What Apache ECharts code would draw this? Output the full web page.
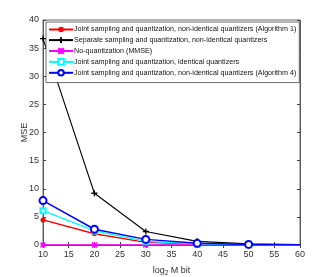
<!DOCTYPE html>
<html><head><meta charset="utf-8">
<script src="https://cdn.jsdelivr.net/npm/echarts@6/dist/echarts.min.js"></script>
<style>html,body{margin:0;padding:0;background:#fff}#c{width:332px;height:277px}</style>
</head><body><div id="c"></div>
<script>
const xVals = [10, 20, 30, 40, 50, 60];
const seriesNames = [
  'Joint sampling and quantization, non-identical quantizers (Algorithm 1)',
  'Separate sampling and quantization, non-identical quantizers',
  'No-quantization (MMSE)',
  'Joint sampling and quantization, identical quantizers',
  'Joint sampling and quantization, non-identical quantizers (Algorithm 4)'
];
const alg1 = [4.45, 2.0, 0.45, 0.15, 0.05, 0.02];
const separate = [36.7, 9.2, 2.4, 0.65, 0.2, 0.06];
const mmse = [0, 0, 0, 0, 0, 0];
const identical = [6.1, 2.5, 0.65, 0.2, 0.06, 0.02];
const alg4 = [7.9, 2.8, 1.0, 0.3, 0.1, 0.03];
const xTicks = [10, 15, 20, 25, 30, 35, 40, 45, 50, 55, 60];
const yTicks = [0, 5, 10, 15, 20, 25, 30, 35, 40];

const plusPath = 'path://M5,0L5,10M0,5L10,5';
const starPath = 'path://M0,0L10,10M10,0L0,10M5,0L5,10M0,5L10,5';
const colors = ['#ff0000', '#000000', '#ff00ff', '#00ffff', '#0000ff'];
const symbols = ['circle', plusPath, starPath, 'emptyRect', 'emptyCircle'];
const sizes = [5, 6, 5, 5, 7];
const widths = [1.3, 1.1, 1.3, 1.3, 1.5];
const datasets = [alg1, separate, mmse, identical, alg4];

const chart = echarts.init(document.getElementById('c'), null, {renderer: 'canvas'});
const font = 'Liberation Sans, Arial, sans-serif';
const series = datasets.map((d, i) => ({
  name: seriesNames[i],
  type: 'line',
  data: xVals.map((x, j) => (j === xVals.length - 1 ? {value: [x, d[j]], symbol: 'none'} : [x, d[j]])),
  symbol: symbols[i],
  symbolSize: sizes[i],
  showAllSymbol: true,
  clip: true,
  lineStyle: {color: colors[i], width: widths[i]},
  itemStyle: {color: colors[i], borderColor: colors[i], borderWidth: i === 0 ? 0 : 1.3},
  z: [2, 3, 4, 5, 6][i],
  animation: false
}));
chart.setOption({
  animation: false,
  textStyle: {fontFamily: font},
  grid: {left: 43, right: 32, top: 20, bottom: 32, show: true, borderColor: '#444', borderWidth: 0.8, backgroundColor: '#fff', containLabel: false, outerBoundsMode: 'none'},
  legend: {
    orient: 'vertical', left: 46, top: 22,
    data: seriesNames,
    itemWidth: 24, itemHeight: 7, itemGap: 3.3,
    padding: [4, 3, 6, 2],
    backgroundColor: '#fff', borderColor: '#444', borderWidth: 0.8,
    textStyle: {fontSize: 7.15, color: '#111', fontFamily: font, padding: [0, 0, 0, -4]},
    selectedMode: false
  },
  xAxis: [{
    type: 'value', min: 10, max: 60, interval: 5,
    axisLine: {show: true, lineStyle: {color: '#444', width: 0.8}},
    axisTick: {show: true, inside: true, length: 3, lineStyle: {color: '#444'}},
    splitLine: {show: false},
    axisLabel: {fontSize: 9, color: '#333', margin: 5, formatter: v => xTicks.includes(v) ? String(v) : ''},
    name: '{a|log}{s|2}{a| M bit}', nameLocation: 'middle', nameGap: 19, nameMoveOverlap: false,
    nameTextStyle: {rich: {a: {fontSize: 9, color: '#333', fontFamily: font}, s: {fontSize: 6.5, color: '#333', verticalAlign: 'bottom', padding: [6, 0, 0, 0], fontFamily: font}}}
  }, {
    type: 'value', position: 'top', min: 10, max: 60, interval: 5,
    axisLine: {show: true, lineStyle: {color: '#444', width: 0.8}},
    axisTick: {show: true, inside: true, length: 3, lineStyle: {color: '#444'}},
    axisLabel: {show: false}, splitLine: {show: false}
  }],
  yAxis: [{
    type: 'value', min: 0, max: 40, interval: 5,
    axisLine: {show: true, lineStyle: {color: '#444', width: 0.8}},
    axisTick: {show: true, inside: true, length: 3, lineStyle: {color: '#444'}},
    splitLine: {show: false},
    axisLabel: {fontSize: 9, color: '#333', margin: 4, formatter: v => yTicks.includes(v) ? String(v) : ''},
    name: 'MSE', nameLocation: 'middle', nameGap: 14, nameMoveOverlap: false,
    nameTextStyle: {fontSize: 9, color: '#333'}
  }, {
    type: 'value', position: 'right', min: 0, max: 40, interval: 5,
    axisLine: {show: true, lineStyle: {color: '#444', width: 0.8}},
    axisTick: {show: true, inside: true, length: 3, lineStyle: {color: '#444'}},
    axisLabel: {show: false}, splitLine: {show: false}
  }],
  series: series
});
</script></body></html>
